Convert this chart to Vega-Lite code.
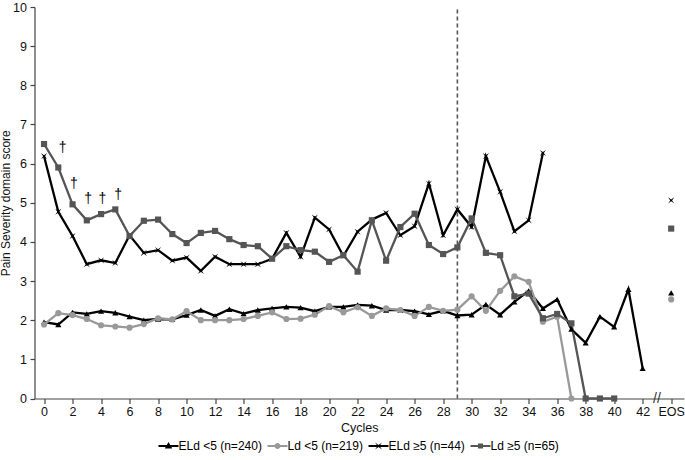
{
  "$schema": "https://vega.github.io/schema/vega-lite/v6.json",
  "width": 649.5,
  "height": 391.5,
  "autosize": "none",
  "padding": {"left": 34.5, "top": 7, "right": 1, "bottom": 61.5},
  "config": {
    "view": {"stroke": null},
    "font": "Liberation Sans",
    "axis": {"grid": false, "domainColor": "#444444", "tickColor": "#444444", "labelColor": "#111111", "titleColor": "#111111", "titleFontWeight": "normal", "labelFontSize": 12.5, "titleFontSize": 12.5, "domainWidth": 1.2, "tickWidth": 1.2}
  },
  "resolve": {"scale": {"color": "independent", "shape": "independent"}},
  "datasets": {
    "series": [
      {"group": "ELd <5 (n=240)", "cycle": 0, "value": 1.95},
      {"group": "ELd <5 (n=240)", "cycle": 1, "value": 1.89},
      {"group": "ELd <5 (n=240)", "cycle": 2, "value": 2.2},
      {"group": "ELd <5 (n=240)", "cycle": 3, "value": 2.16},
      {"group": "ELd <5 (n=240)", "cycle": 4, "value": 2.23},
      {"group": "ELd <5 (n=240)", "cycle": 5, "value": 2.19},
      {"group": "ELd <5 (n=240)", "cycle": 6, "value": 2.09},
      {"group": "ELd <5 (n=240)", "cycle": 7, "value": 2.0},
      {"group": "ELd <5 (n=240)", "cycle": 8, "value": 2.03},
      {"group": "ELd <5 (n=240)", "cycle": 9, "value": 2.02},
      {"group": "ELd <5 (n=240)", "cycle": 10, "value": 2.13},
      {"group": "ELd <5 (n=240)", "cycle": 11, "value": 2.26},
      {"group": "ELd <5 (n=240)", "cycle": 12, "value": 2.11},
      {"group": "ELd <5 (n=240)", "cycle": 13, "value": 2.28},
      {"group": "ELd <5 (n=240)", "cycle": 14, "value": 2.17},
      {"group": "ELd <5 (n=240)", "cycle": 15, "value": 2.26},
      {"group": "ELd <5 (n=240)", "cycle": 16, "value": 2.3},
      {"group": "ELd <5 (n=240)", "cycle": 17, "value": 2.34},
      {"group": "ELd <5 (n=240)", "cycle": 18, "value": 2.32},
      {"group": "ELd <5 (n=240)", "cycle": 19, "value": 2.23},
      {"group": "ELd <5 (n=240)", "cycle": 20, "value": 2.34},
      {"group": "ELd <5 (n=240)", "cycle": 21, "value": 2.34},
      {"group": "ELd <5 (n=240)", "cycle": 22, "value": 2.39},
      {"group": "ELd <5 (n=240)", "cycle": 23, "value": 2.37},
      {"group": "ELd <5 (n=240)", "cycle": 24, "value": 2.26},
      {"group": "ELd <5 (n=240)", "cycle": 25, "value": 2.26},
      {"group": "ELd <5 (n=240)", "cycle": 26, "value": 2.23},
      {"group": "ELd <5 (n=240)", "cycle": 27, "value": 2.15},
      {"group": "ELd <5 (n=240)", "cycle": 28, "value": 2.24},
      {"group": "ELd <5 (n=240)", "cycle": 29, "value": 2.12},
      {"group": "ELd <5 (n=240)", "cycle": 30, "value": 2.14},
      {"group": "ELd <5 (n=240)", "cycle": 31, "value": 2.4},
      {"group": "ELd <5 (n=240)", "cycle": 32, "value": 2.14},
      {"group": "ELd <5 (n=240)", "cycle": 33, "value": 2.47},
      {"group": "ELd <5 (n=240)", "cycle": 34, "value": 2.75},
      {"group": "ELd <5 (n=240)", "cycle": 35, "value": 2.3},
      {"group": "ELd <5 (n=240)", "cycle": 36, "value": 2.53},
      {"group": "ELd <5 (n=240)", "cycle": 37, "value": 1.77},
      {"group": "ELd <5 (n=240)", "cycle": 38, "value": 1.42},
      {"group": "ELd <5 (n=240)", "cycle": 39, "value": 2.09},
      {"group": "ELd <5 (n=240)", "cycle": 40, "value": 1.83},
      {"group": "ELd <5 (n=240)", "cycle": 41, "value": 2.79},
      {"group": "ELd <5 (n=240)", "cycle": 42, "value": 0.77},
      {"group": "ELd <5 (n=240)", "cycle": 44, "value": 2.7},
      {"group": "Ld <5 (n=219)", "cycle": 0, "value": 1.89},
      {"group": "Ld <5 (n=219)", "cycle": 1, "value": 2.18},
      {"group": "Ld <5 (n=219)", "cycle": 2, "value": 2.13},
      {"group": "Ld <5 (n=219)", "cycle": 3, "value": 2.03},
      {"group": "Ld <5 (n=219)", "cycle": 4, "value": 1.87},
      {"group": "Ld <5 (n=219)", "cycle": 5, "value": 1.84},
      {"group": "Ld <5 (n=219)", "cycle": 6, "value": 1.81},
      {"group": "Ld <5 (n=219)", "cycle": 7, "value": 1.9},
      {"group": "Ld <5 (n=219)", "cycle": 8, "value": 2.05},
      {"group": "Ld <5 (n=219)", "cycle": 9, "value": 2.02},
      {"group": "Ld <5 (n=219)", "cycle": 10, "value": 2.23},
      {"group": "Ld <5 (n=219)", "cycle": 11, "value": 2.0},
      {"group": "Ld <5 (n=219)", "cycle": 12, "value": 2.0},
      {"group": "Ld <5 (n=219)", "cycle": 13, "value": 2.0},
      {"group": "Ld <5 (n=219)", "cycle": 14, "value": 2.03},
      {"group": "Ld <5 (n=219)", "cycle": 15, "value": 2.11},
      {"group": "Ld <5 (n=219)", "cycle": 16, "value": 2.2},
      {"group": "Ld <5 (n=219)", "cycle": 17, "value": 2.03},
      {"group": "Ld <5 (n=219)", "cycle": 18, "value": 2.04},
      {"group": "Ld <5 (n=219)", "cycle": 19, "value": 2.14},
      {"group": "Ld <5 (n=219)", "cycle": 20, "value": 2.36},
      {"group": "Ld <5 (n=219)", "cycle": 21, "value": 2.2},
      {"group": "Ld <5 (n=219)", "cycle": 22, "value": 2.33},
      {"group": "Ld <5 (n=219)", "cycle": 23, "value": 2.11},
      {"group": "Ld <5 (n=219)", "cycle": 24, "value": 2.3},
      {"group": "Ld <5 (n=219)", "cycle": 25, "value": 2.26},
      {"group": "Ld <5 (n=219)", "cycle": 26, "value": 2.11},
      {"group": "Ld <5 (n=219)", "cycle": 27, "value": 2.34},
      {"group": "Ld <5 (n=219)", "cycle": 28, "value": 2.24},
      {"group": "Ld <5 (n=219)", "cycle": 29, "value": 2.27},
      {"group": "Ld <5 (n=219)", "cycle": 30, "value": 2.61},
      {"group": "Ld <5 (n=219)", "cycle": 31, "value": 2.24},
      {"group": "Ld <5 (n=219)", "cycle": 32, "value": 2.75},
      {"group": "Ld <5 (n=219)", "cycle": 33, "value": 3.12},
      {"group": "Ld <5 (n=219)", "cycle": 34, "value": 2.98},
      {"group": "Ld <5 (n=219)", "cycle": 35, "value": 1.96},
      {"group": "Ld <5 (n=219)", "cycle": 36, "value": 2.09},
      {"group": "Ld <5 (n=219)", "cycle": 37, "value": 0},
      {"group": "Ld <5 (n=219)", "cycle": 44, "value": 2.53},
      {"group": "ELd ≥5 (n=44)", "cycle": 0, "value": 6.19},
      {"group": "ELd ≥5 (n=44)", "cycle": 1, "value": 4.77},
      {"group": "ELd ≥5 (n=44)", "cycle": 2, "value": 4.15},
      {"group": "ELd ≥5 (n=44)", "cycle": 3, "value": 3.43},
      {"group": "ELd ≥5 (n=44)", "cycle": 4, "value": 3.53},
      {"group": "ELd ≥5 (n=44)", "cycle": 5, "value": 3.46},
      {"group": "ELd ≥5 (n=44)", "cycle": 6, "value": 4.17},
      {"group": "ELd ≥5 (n=44)", "cycle": 7, "value": 3.72},
      {"group": "ELd ≥5 (n=44)", "cycle": 8, "value": 3.79},
      {"group": "ELd ≥5 (n=44)", "cycle": 9, "value": 3.52},
      {"group": "ELd ≥5 (n=44)", "cycle": 10, "value": 3.6},
      {"group": "ELd ≥5 (n=44)", "cycle": 11, "value": 3.26},
      {"group": "ELd ≥5 (n=44)", "cycle": 12, "value": 3.62},
      {"group": "ELd ≥5 (n=44)", "cycle": 13, "value": 3.43},
      {"group": "ELd ≥5 (n=44)", "cycle": 14, "value": 3.43},
      {"group": "ELd ≥5 (n=44)", "cycle": 15, "value": 3.43},
      {"group": "ELd ≥5 (n=44)", "cycle": 16, "value": 3.57},
      {"group": "ELd ≥5 (n=44)", "cycle": 17, "value": 4.23},
      {"group": "ELd ≥5 (n=44)", "cycle": 18, "value": 3.62},
      {"group": "ELd ≥5 (n=44)", "cycle": 19, "value": 4.62},
      {"group": "ELd ≥5 (n=44)", "cycle": 20, "value": 4.32},
      {"group": "ELd ≥5 (n=44)", "cycle": 21, "value": 3.64},
      {"group": "ELd ≥5 (n=44)", "cycle": 22, "value": 4.26},
      {"group": "ELd ≥5 (n=44)", "cycle": 23, "value": 4.57},
      {"group": "ELd ≥5 (n=44)", "cycle": 24, "value": 4.74},
      {"group": "ELd ≥5 (n=44)", "cycle": 25, "value": 4.17},
      {"group": "ELd ≥5 (n=44)", "cycle": 26, "value": 4.4},
      {"group": "ELd ≥5 (n=44)", "cycle": 27, "value": 5.49},
      {"group": "ELd ≥5 (n=44)", "cycle": 28, "value": 4.17},
      {"group": "ELd ≥5 (n=44)", "cycle": 29, "value": 4.83},
      {"group": "ELd ≥5 (n=44)", "cycle": 30, "value": 4.38},
      {"group": "ELd ≥5 (n=44)", "cycle": 31, "value": 6.19},
      {"group": "ELd ≥5 (n=44)", "cycle": 32, "value": 5.28},
      {"group": "ELd ≥5 (n=44)", "cycle": 33, "value": 4.27},
      {"group": "ELd ≥5 (n=44)", "cycle": 34, "value": 4.55},
      {"group": "ELd ≥5 (n=44)", "cycle": 35, "value": 6.27},
      {"group": "ELd ≥5 (n=44)", "cycle": 44, "value": 5.06},
      {"group": "Ld ≥5 (n=65)", "cycle": 0, "value": 6.5},
      {"group": "Ld ≥5 (n=65)", "cycle": 1, "value": 5.9},
      {"group": "Ld ≥5 (n=65)", "cycle": 2, "value": 4.96},
      {"group": "Ld ≥5 (n=65)", "cycle": 3, "value": 4.55},
      {"group": "Ld ≥5 (n=65)", "cycle": 4, "value": 4.71},
      {"group": "Ld ≥5 (n=65)", "cycle": 5, "value": 4.83},
      {"group": "Ld ≥5 (n=65)", "cycle": 6, "value": 4.15},
      {"group": "Ld ≥5 (n=65)", "cycle": 7, "value": 4.54},
      {"group": "Ld ≥5 (n=65)", "cycle": 8, "value": 4.57},
      {"group": "Ld ≥5 (n=65)", "cycle": 9, "value": 4.2},
      {"group": "Ld ≥5 (n=65)", "cycle": 10, "value": 3.97},
      {"group": "Ld ≥5 (n=65)", "cycle": 11, "value": 4.23},
      {"group": "Ld ≥5 (n=65)", "cycle": 12, "value": 4.28},
      {"group": "Ld ≥5 (n=65)", "cycle": 13, "value": 4.07},
      {"group": "Ld ≥5 (n=65)", "cycle": 14, "value": 3.92},
      {"group": "Ld ≥5 (n=65)", "cycle": 15, "value": 3.89},
      {"group": "Ld ≥5 (n=65)", "cycle": 16, "value": 3.57},
      {"group": "Ld ≥5 (n=65)", "cycle": 17, "value": 3.89},
      {"group": "Ld ≥5 (n=65)", "cycle": 18, "value": 3.79},
      {"group": "Ld ≥5 (n=65)", "cycle": 19, "value": 3.75},
      {"group": "Ld ≥5 (n=65)", "cycle": 20, "value": 3.49},
      {"group": "Ld ≥5 (n=65)", "cycle": 21, "value": 3.66},
      {"group": "Ld ≥5 (n=65)", "cycle": 22, "value": 3.24},
      {"group": "Ld ≥5 (n=65)", "cycle": 23, "value": 4.55},
      {"group": "Ld ≥5 (n=65)", "cycle": 24, "value": 3.52},
      {"group": "Ld ≥5 (n=65)", "cycle": 25, "value": 4.38},
      {"group": "Ld ≥5 (n=65)", "cycle": 26, "value": 4.72},
      {"group": "Ld ≥5 (n=65)", "cycle": 27, "value": 3.92},
      {"group": "Ld ≥5 (n=65)", "cycle": 28, "value": 3.69},
      {"group": "Ld ≥5 (n=65)", "cycle": 29, "value": 3.86},
      {"group": "Ld ≥5 (n=65)", "cycle": 30, "value": 4.6},
      {"group": "Ld ≥5 (n=65)", "cycle": 31, "value": 3.72},
      {"group": "Ld ≥5 (n=65)", "cycle": 32, "value": 3.66},
      {"group": "Ld ≥5 (n=65)", "cycle": 33, "value": 2.61},
      {"group": "Ld ≥5 (n=65)", "cycle": 34, "value": 2.68},
      {"group": "Ld ≥5 (n=65)", "cycle": 35, "value": 2.05},
      {"group": "Ld ≥5 (n=65)", "cycle": 36, "value": 2.16},
      {"group": "Ld ≥5 (n=65)", "cycle": 37, "value": 1.92},
      {"group": "Ld ≥5 (n=65)", "cycle": 38, "value": 0},
      {"group": "Ld ≥5 (n=65)", "cycle": 39, "value": 0},
      {"group": "Ld ≥5 (n=65)", "cycle": 40, "value": 0},
      {"group": "Ld ≥5 (n=65)", "cycle": 44, "value": 4.34}
    ],
    "daggers": [
      {"cycle": 1.3, "value": 6.39, "label": "†"},
      {"cycle": 2.1, "value": 5.47, "label": "†"},
      {"cycle": 3.1, "value": 5.09, "label": "†"},
      {"cycle": 4.1, "value": 5.09, "label": "†"},
      {"cycle": 5.2, "value": 5.19, "label": "†"}
    ],
    "breaks": [{"cycle": 43, "value": 0, "label": "//"}],
    "marker": [{"cycle": 29, "value": 0, "top": 10}]
  },
  "encoding": {
    "x": {"field": "cycle", "type": "quantitative", "scale": {"domain": [-0.67, 44.9], "nice": false, "zero": false},
      "axis": {"values": [0, 2, 4, 6, 8, 10, 12, 14, 16, 18, 20, 22, 24, 26, 28, 30, 32, 34, 36, 38, 40, 42, 44], "labelOverlap": false,
        "labelExpr": "datum.value == 44 ? 'EOS' : datum.label", "title": "Cycles", "tickSize": 5, "labelPadding": 2, "titlePadding": 3}},
    "y": {"field": "value", "type": "quantitative", "scale": {"domain": [0, 10], "nice": false},
      "axis": {"values": [0, 1, 2, 3, 4, 5, 6, 7, 8, 9, 10], "labelOverlap": false, "title": "Pain Severity domain score", "titleFontSize": 12, "tickSize": 4.5, "labelPadding": 3.5, "titlePadding": 0.5}}
  },
  "layer": [
    {
      "data": {"name": "marker"},
      "mark": {"type": "rule", "color": "#555555", "strokeWidth": 1.6, "strokeDash": [4, 3]},
      "encoding": {
        "y2": {"field": "top"}
      }
    },
    {
      "data": {"name": "series"},
      "transform": [{"filter": "datum.cycle <= 42"}],
      "mark": {"type": "line", "strokeWidth": 2.3},
      "encoding": {
        "color": {"field": "group", "type": "nominal", "legend": null,
          "scale": {"domain": ["ELd <5 (n=240)", "Ld <5 (n=219)", "ELd ≥5 (n=44)", "Ld ≥5 (n=65)"], "range": ["#000000", "#999999", "#000000", "#555555"]}},
        "order": {"field": "cycle", "type": "quantitative"}
      }
    },
    {
      "data": {"name": "series"},
      "mark": {"type": "point", "filled": true, "opacity": 1, "size": 38},
      "encoding": {
        "color": {"field": "group", "type": "nominal", "legend": null,
          "scale": {"domain": ["ELd <5 (n=240)", "Ld <5 (n=219)", "ELd ≥5 (n=44)", "Ld ≥5 (n=65)"], "range": ["#000000", "#999999", "#000000", "#555555"]}},
        "shape": {"field": "group", "type": "nominal", "legend": null,
          "scale": {"domain": ["ELd <5 (n=240)", "Ld <5 (n=219)", "ELd ≥5 (n=44)", "Ld ≥5 (n=65)"], "range": ["triangle-up", "circle", "M-1,-1L0,-0.3L1,-1L0.3,0L1,1L0,0.3L-1,1L-0.3,0Z", "square"]}}
      }
    },
    {
      "data": {"name": "series"},
      "transform": [{"filter": "false"}],
      "mark": {"type": "point", "filled": true, "opacity": 1, "size": 100},
      "encoding": {
        "color": {"field": "group", "type": "nominal",
          "scale": {"domain": ["ELd <5 (n=240)", "Ld <5 (n=219)", "ELd ≥5 (n=44)", "Ld ≥5 (n=65)"], "range": ["#000000", "#999999", "#000000", "#555555"]},
          "legend": {"orient": "none", "legendX": 128, "legendY": 433, "direction": "horizontal", "title": null, "symbolSize": 100, "symbolStrokeWidth": 0, "labelOffset": 4, "columnPadding": 5, "labelFontSize": 12, "labelColor": "#000000"}},
        "shape": {"field": "group", "type": "nominal",
          "scale": {"domain": ["ELd <5 (n=240)", "Ld <5 (n=219)", "ELd ≥5 (n=44)", "Ld ≥5 (n=65)"], "range": ["M-2,-0.2H2V0.2H-2Z M0,-0.8L0.75,0.5H-0.75Z", "M-2,-0.2H2V0.2H-2Z M0.6,0A0.6,0.6 0 1,1 -0.6,0A0.6,0.6 0 1,1 0.6,0Z", "M-2,-0.2H2V0.2H-2Z M-0.7,-0.7L0,-0.2L0.7,-0.7L0.2,0L0.7,0.7L0,0.2L-0.7,0.7L-0.2,0Z", "M-2,-0.2H2V0.2H-2Z M-0.5,-0.5H0.5V0.5H-0.5Z"]},
          "legend": {"orient": "none", "legendX": 128, "legendY": 433, "direction": "horizontal", "title": null, "symbolSize": 100, "symbolStrokeWidth": 0, "labelOffset": 4, "columnPadding": 5, "labelFontSize": 12, "labelColor": "#000000"}}
      }
    },
    {
      "data": {"name": "daggers"},
      "mark": {"type": "text", "fontSize": 14, "baseline": "middle", "align": "center", "color": "#000000"},
      "encoding": {
        "text": {"field": "label"}
      }
    },
    {
      "data": {"name": "breaks"},
      "mark": {"type": "text", "fontSize": 14, "baseline": "middle", "align": "center", "color": "#333333", "letterSpacing": -2},
      "encoding": {
        "text": {"field": "label"}
      }
    }
  ]
}
